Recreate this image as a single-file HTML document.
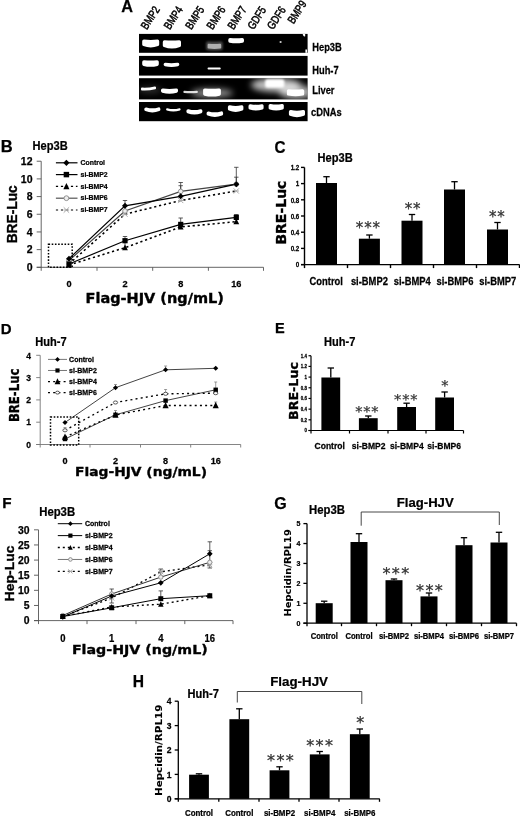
<!DOCTYPE html>
<html lang="en"><head><meta charset="utf-8"><title>Figure</title>
<style>
html,body{margin:0;padding:0;background:#fff;}
body{width:520px;height:817px;overflow:hidden;}
svg{display:block;}
text{font-family:"Liberation Sans",sans-serif;}
text.dv{font-family:"DejaVu Sans","Liberation Sans",sans-serif;}
text.ls{font-family:"Liberation Sans",sans-serif;}
text.st{font-family:"DejaVu Sans","Liberation Sans",sans-serif;font-weight:normal;fill:#333;}
</style></head><body>
<svg width="520" height="817" viewBox="0 0 520 817">
<defs>
<filter id="b1" filterUnits="userSpaceOnUse" x="130" y="25" width="190" height="105"><feGaussianBlur stdDeviation="0.7"/></filter>
<filter id="b2" filterUnits="userSpaceOnUse" x="130" y="25" width="190" height="105"><feGaussianBlur stdDeviation="1.3"/></filter>
<filter id="b3" filterUnits="userSpaceOnUse" x="130" y="25" width="190" height="105"><feGaussianBlur stdDeviation="3"/></filter>
<clipPath id="clipL"><rect x="139" y="78.2" width="168.6" height="21.2"/></clipPath>
</defs>
<rect width="520" height="817" fill="#fff"/>
<text transform="translate(121.30,12.20) scale(1.0,1)" font-size="16.3" font-weight="bold" text-anchor="start" fill="#000" stroke="#000" stroke-width="0.25" >A</text>
<text class="ls" transform="translate(146.80,30.20) rotate(-57) scale(0.8,1)" font-size="11.4" stroke="#000" stroke-width="0.5">BMP2</text>
<text class="ls" transform="translate(169.80,30.20) rotate(-57) scale(0.8,1)" font-size="11.4" stroke="#000" stroke-width="0.5">BMP4</text>
<text class="ls" transform="translate(191.20,30.20) rotate(-57) scale(0.8,1)" font-size="11.4" stroke="#000" stroke-width="0.5">BMP5</text>
<text class="ls" transform="translate(212.60,30.20) rotate(-57) scale(0.8,1)" font-size="11.4" stroke="#000" stroke-width="0.5">BMP6</text>
<text class="ls" transform="translate(233.40,30.20) rotate(-57) scale(0.8,1)" font-size="11.4" stroke="#000" stroke-width="0.5">BMP7</text>
<text class="ls" transform="translate(253.40,30.20) rotate(-57) scale(0.8,1)" font-size="11.4" stroke="#000" stroke-width="0.5">GDF5</text>
<text class="ls" transform="translate(273.00,30.20) rotate(-57) scale(0.8,1)" font-size="11.4" stroke="#000" stroke-width="0.5">GDF6</text>
<text class="ls" transform="translate(293.40,24.60) rotate(-57) scale(0.8,1)" font-size="11.4" stroke="#000" stroke-width="0.5">BMP9</text>
<rect x="139.00" y="33.90" width="168.60" height="18.90" fill="#000" />
<rect x="139.00" y="55.90" width="168.60" height="19.70" fill="#000" />
<rect x="139.00" y="78.20" width="168.60" height="21.20" fill="#000" />
<rect x="139.00" y="102.00" width="168.60" height="19.20" fill="#000" />
<text transform="translate(312.20,50.60) scale(0.82,1)" font-size="11.4" font-weight="bold" text-anchor="start" fill="#000" stroke="#000" stroke-width="0.25" >Hep3B</text>
<text transform="translate(312.20,73.60) scale(0.82,1)" font-size="11.4" font-weight="bold" text-anchor="start" fill="#000" stroke="#000" stroke-width="0.25" >Huh-7</text>
<text transform="translate(312.20,93.70) scale(0.82,1)" font-size="11.4" font-weight="bold" text-anchor="start" fill="#000" stroke="#000" stroke-width="0.25" >Liver</text>
<text transform="translate(311.00,116.10) scale(0.82,1)" font-size="11.4" font-weight="bold" text-anchor="start" fill="#000" stroke="#000" stroke-width="0.25" >cDNAs</text>
<g filter="url(#b3)" clip-path="url(#clipL)">
<ellipse cx="276" cy="85" rx="25" ry="7" fill="#fff" opacity="0.75"/>
<ellipse cx="296" cy="92" rx="17" ry="7" fill="#fff" opacity="0.7"/>
<ellipse cx="212" cy="93" rx="21" ry="4.5" fill="#fff" opacity="0.55"/>
<ellipse cx="150" cy="90" rx="12" ry="3" fill="#fff" opacity="0.2"/>
</g>
<path filter="url(#b1)" d="M143.90,41.30 Q150.70,41.90 157.50,41.30 L157.50,44.50 Q150.70,46.90 143.90,44.50Z" fill="#fff" stroke="#fff" stroke-width="3.4" stroke-linejoin="round" opacity="1.0"/>
<path filter="url(#b1)" d="M164.50,41.90 Q171.90,42.50 179.30,41.90 L179.30,45.50 Q171.90,48.30 164.50,45.50Z" fill="#fff" stroke="#fff" stroke-width="3.4" stroke-linejoin="round" opacity="1.0"/>
<path filter="url(#b2)" d="M207.80,43.30 Q214.40,43.70 221.00,43.30 L221.00,48.40 Q214.40,49.40 207.80,48.40Z" fill="#fff" stroke="#fff" stroke-width="3.4" stroke-linejoin="round" opacity="0.3"/>
<path filter="url(#b1)" d="M208.80,45.00 Q214.40,45.40 220.00,45.00 L220.00,47.40 Q214.40,48.20 208.80,47.40Z" fill="#fff" stroke="#fff" stroke-width="2.4" stroke-linejoin="round" opacity="0.55"/>
<path filter="url(#b1)" d="M230.00,39.80 Q236.15,40.20 242.30,39.80 L242.30,41.00 Q236.15,42.00 230.00,41.00Z" fill="#fff" stroke="#fff" stroke-width="3.4" stroke-linejoin="round" opacity="1.0"/>
<circle cx="280.6" cy="42" r="1.1" fill="#ccc" filter="url(#b1)"/>
<path d="M302.6,33.9 h2.6 v2.4 q-1.5,1.2 -2.6,-2.4z" fill="#fff"/>
<rect x="305.4" y="49.5" width="1.6" height="3.3" fill="#fff"/>
<path filter="url(#b1)" d="M143.90,61.90 Q150.50,62.50 157.10,61.90 L157.10,64.30 Q150.50,65.90 143.90,64.30Z" fill="#fff" stroke="#fff" stroke-width="3.4" stroke-linejoin="round" opacity="1.0"/>
<path filter="url(#b1)" d="M165.30,64.50 Q171.45,65.30 177.60,64.50 L177.60,64.60 Q171.45,65.80 165.30,64.60Z" fill="#fff" stroke="#fff" stroke-width="3.4" stroke-linejoin="round" opacity="1.0"/>
<path filter="url(#b1)" d="M208.40,68.20 Q214.15,68.20 219.90,68.20 L219.90,68.80 Q214.15,68.80 208.40,68.80Z" fill="#fff" stroke="#fff" stroke-width="1.6" stroke-linejoin="round" opacity="1.0"/>
<path filter="url(#b1)" d="M142.00,88.60 Q148.50,89.00 155.00,87.40 L155.00,88.30 Q148.50,89.90 142.00,89.50Z" fill="#fff" stroke="#fff" stroke-width="2.0" stroke-linejoin="round" opacity="1.0"/>
<path filter="url(#b1)" d="M162.70,90.10 Q169.50,91.10 176.30,90.10 L176.30,91.10 Q169.50,93.10 162.70,91.10Z" fill="#fff" stroke="#fff" stroke-width="3.4" stroke-linejoin="round" opacity="1.0"/>
<path filter="url(#b1)" d="M184.25,91.65 Q190.60,92.05 196.95,91.65 L196.95,92.15 Q190.60,92.55 184.25,92.15Z" fill="#fff" stroke="#fff" stroke-width="1.7" stroke-linejoin="round" opacity="0.85"/>
<path filter="url(#b1)" d="M204.80,90.10 Q212.00,90.70 219.20,90.10 L219.20,94.10 Q212.00,95.70 204.80,94.10Z" fill="#fff" stroke="#fff" stroke-width="3.4" stroke-linejoin="round" opacity="1.0"/>
<path filter="url(#b2)" d="M267.60,81.70 Q274.75,81.70 281.90,81.70 L281.90,85.30 Q274.75,85.30 267.60,85.30Z" fill="#fff" stroke="#fff" stroke-width="5.0" stroke-linejoin="round" opacity="1.0"/>
<path filter="url(#b1)" d="M288.60,90.90 Q295.55,91.50 302.50,90.90 L302.50,93.90 Q295.55,95.10 288.60,93.90Z" fill="#fff" stroke="#fff" stroke-width="3.4" stroke-linejoin="round" opacity="1.0"/>
<path filter="url(#b1)" d="M146.00,109.10 Q152.35,110.90 158.70,109.10 L158.70,109.40 Q152.35,112.00 146.00,109.40Z" fill="#fff" stroke="#fff" stroke-width="3.4" stroke-linejoin="round" opacity="1.0"/>
<path filter="url(#b1)" d="M167.10,109.20 Q173.35,111.00 179.60,109.20 L179.60,109.50 Q173.35,111.50 167.10,109.50Z" fill="#fff" stroke="#fff" stroke-width="2.0" stroke-linejoin="round" opacity="1.0"/>
<path filter="url(#b1)" d="M188.10,110.90 Q194.40,112.70 200.70,110.90 L200.70,111.60 Q194.40,114.20 188.10,111.60Z" fill="#fff" stroke="#fff" stroke-width="3.4" stroke-linejoin="round" opacity="1.0"/>
<path filter="url(#b1)" d="M208.30,113.10 Q214.85,114.90 221.40,113.10 L221.40,113.90 Q214.85,116.50 208.30,113.90Z" fill="#fff" stroke="#fff" stroke-width="3.4" stroke-linejoin="round" opacity="1.0"/>
<path filter="url(#b1)" d="M229.60,106.90 Q235.65,108.30 241.70,106.90 L241.70,109.00 Q235.65,111.60 229.60,109.00Z" fill="#fff" stroke="#fff" stroke-width="3.4" stroke-linejoin="round" opacity="1.0"/>
<path filter="url(#b1)" d="M250.20,105.90 Q256.05,107.10 261.90,105.90 L261.90,107.90 Q256.05,109.90 250.20,107.90Z" fill="#fff" stroke="#fff" stroke-width="3.4" stroke-linejoin="round" opacity="1.0"/>
<path filter="url(#b1)" d="M270.30,105.60 Q276.20,106.80 282.10,105.60 L282.10,107.90 Q276.20,109.90 270.30,107.90Z" fill="#fff" stroke="#fff" stroke-width="3.4" stroke-linejoin="round" opacity="1.0"/>
<path filter="url(#b1)" d="M290.60,111.70 Q296.95,113.10 303.30,111.70 L303.30,114.30 Q296.95,116.90 290.60,114.30Z" fill="#fff" stroke="#fff" stroke-width="3.4" stroke-linejoin="round" opacity="1.0"/>
<text transform="translate(0.80,152.00) scale(1.0,1)" font-size="16.5" font-weight="bold" text-anchor="start" fill="#000" stroke="#000" stroke-width="0.25" >B</text>
<text transform="translate(32.60,149.50) scale(0.88,1)" font-size="12.6" font-weight="bold" text-anchor="start" fill="#000" stroke="#000" stroke-width="0.25" >Hep3B</text>
<text class="ls" transform="translate(17.20,243.30) rotate(-90)" font-size="14.2" font-weight="bold" text-anchor="start" textLength="58" lengthAdjust="spacingAndGlyphs" stroke="#000" stroke-width="0.35">BRE-Luc</text>
<line x1="41.20" y1="161.22" x2="41.20" y2="270.80" stroke="#555" stroke-width="0.9" />
<line x1="36.70" y1="267.30" x2="263.50" y2="267.30" stroke="#555" stroke-width="0.9" />
<line x1="97.00" y1="267.30" x2="97.00" y2="270.80" stroke="#555" stroke-width="0.9" />
<line x1="152.70" y1="267.30" x2="152.70" y2="270.80" stroke="#555" stroke-width="0.9" />
<line x1="208.40" y1="267.30" x2="208.40" y2="270.80" stroke="#555" stroke-width="0.9" />
<line x1="263.50" y1="267.30" x2="263.50" y2="270.80" stroke="#555" stroke-width="0.9" />
<line x1="36.70" y1="267.30" x2="41.20" y2="267.30" stroke="#555" stroke-width="0.9" />
<text transform="translate(32.50,271.08) scale(1.0,1)" font-size="10.5" font-weight="bold" text-anchor="end" fill="#000" stroke="#000" stroke-width="0.25" >0</text>
<line x1="36.70" y1="249.62" x2="41.20" y2="249.62" stroke="#555" stroke-width="0.9" />
<text transform="translate(32.50,253.40) scale(1.0,1)" font-size="10.5" font-weight="bold" text-anchor="end" fill="#000" stroke="#000" stroke-width="0.25" >2</text>
<line x1="36.70" y1="231.94" x2="41.20" y2="231.94" stroke="#555" stroke-width="0.9" />
<text transform="translate(32.50,235.72) scale(1.0,1)" font-size="10.5" font-weight="bold" text-anchor="end" fill="#000" stroke="#000" stroke-width="0.25" >4</text>
<line x1="36.70" y1="214.26" x2="41.20" y2="214.26" stroke="#555" stroke-width="0.9" />
<text transform="translate(32.50,218.04) scale(1.0,1)" font-size="10.5" font-weight="bold" text-anchor="end" fill="#000" stroke="#000" stroke-width="0.25" >6</text>
<line x1="36.70" y1="196.58" x2="41.20" y2="196.58" stroke="#555" stroke-width="0.9" />
<text transform="translate(32.50,200.36) scale(1.0,1)" font-size="10.5" font-weight="bold" text-anchor="end" fill="#000" stroke="#000" stroke-width="0.25" >8</text>
<line x1="36.70" y1="178.90" x2="41.20" y2="178.90" stroke="#555" stroke-width="0.9" />
<text transform="translate(32.50,182.68) scale(1.0,1)" font-size="10.5" font-weight="bold" text-anchor="end" fill="#000" stroke="#000" stroke-width="0.25" >10</text>
<line x1="36.70" y1="161.22" x2="41.20" y2="161.22" stroke="#555" stroke-width="0.9" />
<text transform="translate(32.50,165.00) scale(1.0,1)" font-size="10.5" font-weight="bold" text-anchor="end" fill="#000" stroke="#000" stroke-width="0.25" >12</text>
<line x1="125.00" y1="205.80" x2="125.00" y2="200.50" stroke="#333" stroke-width="0.8" />
<line x1="122.80" y1="200.50" x2="127.20" y2="200.50" stroke="#333" stroke-width="0.8" />
<line x1="125.00" y1="211.00" x2="125.00" y2="206.50" stroke="#333" stroke-width="0.8" />
<line x1="122.80" y1="206.50" x2="127.20" y2="206.50" stroke="#333" stroke-width="0.8" />
<line x1="125.00" y1="240.70" x2="125.00" y2="236.50" stroke="#333" stroke-width="0.8" />
<line x1="122.80" y1="236.50" x2="127.20" y2="236.50" stroke="#333" stroke-width="0.8" />
<line x1="125.00" y1="247.70" x2="125.00" y2="242.00" stroke="#333" stroke-width="0.8" />
<line x1="122.80" y1="242.00" x2="127.20" y2="242.00" stroke="#333" stroke-width="0.8" />
<line x1="180.70" y1="196.30" x2="180.70" y2="182.50" stroke="#333" stroke-width="0.8" />
<line x1="178.50" y1="182.50" x2="182.90" y2="182.50" stroke="#333" stroke-width="0.8" />
<line x1="180.70" y1="191.40" x2="180.70" y2="185.70" stroke="#333" stroke-width="0.8" />
<line x1="178.50" y1="185.70" x2="182.90" y2="185.70" stroke="#333" stroke-width="0.8" />
<line x1="180.70" y1="224.40" x2="180.70" y2="218.00" stroke="#333" stroke-width="0.8" />
<line x1="178.50" y1="218.00" x2="182.90" y2="218.00" stroke="#333" stroke-width="0.8" />
<line x1="236.30" y1="184.20" x2="236.30" y2="167.30" stroke="#333" stroke-width="0.8" />
<line x1="234.10" y1="167.30" x2="238.50" y2="167.30" stroke="#333" stroke-width="0.8" />
<line x1="236.30" y1="184.20" x2="236.30" y2="177.20" stroke="#333" stroke-width="0.8" />
<line x1="234.10" y1="177.20" x2="238.50" y2="177.20" stroke="#333" stroke-width="0.8" />
<line x1="236.30" y1="217.40" x2="236.30" y2="214.50" stroke="#333" stroke-width="0.8" />
<line x1="234.10" y1="214.50" x2="238.50" y2="214.50" stroke="#333" stroke-width="0.8" />
<polyline points="69.00,264.00 125.00,214.20 180.70,200.50 236.30,191.00" fill="none" stroke="#000" stroke-width="1.5499999999999998" stroke-dasharray="2.2 2.8"/>
<polyline points="69.00,265.00 125.00,247.70 180.70,227.00 236.30,221.60" fill="none" stroke="#000" stroke-width="1.5499999999999998" stroke-dasharray="2.2 2.8"/>
<polyline points="69.00,260.50 125.00,211.00 180.70,191.40 236.30,184.20" fill="none" stroke="#444" stroke-width="1.2"/>
<polyline points="69.00,264.00 125.00,240.70 180.70,224.40 236.30,217.40" fill="none" stroke="#000" stroke-width="1.2"/>
<polyline points="69.00,258.70 125.00,205.80 180.70,196.30 236.30,184.20" fill="none" stroke="#000" stroke-width="1.2"/>
<path d="M66.40,261.40L71.60,266.60M66.40,266.60L71.60,261.40M66.40,264.00L71.60,264.00" stroke="#aaa" stroke-width="1.0" fill="none"/>
<path d="M122.40,211.60L127.60,216.80M122.40,216.80L127.60,211.60M122.40,214.20L127.60,214.20" stroke="#aaa" stroke-width="1.0" fill="none"/>
<path d="M178.10,197.90L183.30,203.10M178.10,203.10L183.30,197.90M178.10,200.50L183.30,200.50" stroke="#aaa" stroke-width="1.0" fill="none"/>
<path d="M233.70,188.40L238.90,193.60M233.70,193.60L238.90,188.40M233.70,191.00L238.90,191.00" stroke="#aaa" stroke-width="1.0" fill="none"/>
<path d="M66.10,267.61L69.00,261.81L71.90,267.61Z" fill="#000"/>
<path d="M122.10,250.31L125.00,244.51L127.90,250.31Z" fill="#000"/>
<path d="M177.80,229.61L180.70,223.81L183.60,229.61Z" fill="#000"/>
<path d="M233.40,224.21L236.30,218.41L239.20,224.21Z" fill="#000"/>
<circle cx="69.00" cy="260.50" r="2.30" fill="#eee" stroke="#888" stroke-width="0.9"/>
<circle cx="125.00" cy="211.00" r="2.30" fill="#eee" stroke="#888" stroke-width="0.9"/>
<circle cx="180.70" cy="191.40" r="2.30" fill="#eee" stroke="#888" stroke-width="0.9"/>
<circle cx="236.30" cy="184.20" r="2.30" fill="#eee" stroke="#888" stroke-width="0.9"/>
<rect x="66.40" y="261.40" width="5.20" height="5.20" fill="#000" />
<rect x="122.40" y="238.10" width="5.20" height="5.20" fill="#000" />
<rect x="178.10" y="221.80" width="5.20" height="5.20" fill="#000" />
<rect x="233.70" y="214.80" width="5.20" height="5.20" fill="#000" />
<path d="M66.00,258.70L69.00,255.70L72.00,258.70L69.00,261.70Z" fill="#000"/>
<path d="M122.00,205.80L125.00,202.80L128.00,205.80L125.00,208.80Z" fill="#000"/>
<path d="M177.70,196.30L180.70,193.30L183.70,196.30L180.70,199.30Z" fill="#000"/>
<path d="M233.30,184.20L236.30,181.20L239.30,184.20L236.30,187.20Z" fill="#000"/>
<rect x="48.5" y="244.3" width="23.7" height="23" fill="none" stroke="#000" stroke-width="1.5" stroke-dasharray="1.6 1.6"/>
<polyline points="55.90,162.80 77.50,162.80" fill="none" stroke="#000" stroke-width="1.2"/>
<path d="M63.25,162.80L66.40,159.65L69.55,162.80L66.40,165.95Z" fill="#000"/>
<text transform="translate(80.60,164.90) scale(0.93,1)" font-size="7.4" font-weight="bold" text-anchor="start" fill="#000" stroke="#000" stroke-width="0.25" >Control</text>
<polyline points="55.90,174.60 77.50,174.60" fill="none" stroke="#000" stroke-width="1.2"/>
<rect x="63.67" y="171.87" width="5.46" height="5.46" fill="#000" />
<text transform="translate(80.60,176.70) scale(0.93,1)" font-size="7.4" font-weight="bold" text-anchor="start" fill="#000" stroke="#000" stroke-width="0.25" >si-BMP2</text>
<polyline points="55.90,186.40 77.50,186.40" fill="none" stroke="#000" stroke-width="1.2" stroke-dasharray="2.2 2.8"/>
<path d="M63.36,189.14L66.40,183.05L69.45,189.14Z" fill="#000"/>
<text transform="translate(80.60,188.50) scale(0.93,1)" font-size="7.4" font-weight="bold" text-anchor="start" fill="#000" stroke="#000" stroke-width="0.25" >si-BMP4</text>
<polyline points="55.90,198.20 77.50,198.20" fill="none" stroke="#555" stroke-width="1.2"/>
<circle cx="66.40" cy="198.20" r="2.42" fill="#eee" stroke="#888" stroke-width="0.9"/>
<text transform="translate(80.60,200.30) scale(0.93,1)" font-size="7.4" font-weight="bold" text-anchor="start" fill="#000" stroke="#000" stroke-width="0.25" >si-BMP6</text>
<polyline points="55.90,210.00 77.50,210.00" fill="none" stroke="#000" stroke-width="1.2" stroke-dasharray="2.2 2.8"/>
<path d="M63.67,207.27L69.13,212.73M63.67,212.73L69.13,207.27M63.67,210.00L69.13,210.00" stroke="#aaa" stroke-width="1.0" fill="none"/>
<text transform="translate(80.60,212.10) scale(0.93,1)" font-size="7.4" font-weight="bold" text-anchor="start" fill="#000" stroke="#000" stroke-width="0.25" >si-BMP7</text>
<text transform="translate(69.00,287.30) scale(0.95,1)" font-size="9.7" font-weight="bold" text-anchor="middle" fill="#000" stroke="#000" stroke-width="0.25" >0</text>
<text transform="translate(125.00,287.30) scale(0.95,1)" font-size="9.7" font-weight="bold" text-anchor="middle" fill="#000" stroke="#000" stroke-width="0.25" >2</text>
<text transform="translate(180.70,287.30) scale(0.95,1)" font-size="9.7" font-weight="bold" text-anchor="middle" fill="#000" stroke="#000" stroke-width="0.25" >8</text>
<text transform="translate(236.30,287.30) scale(0.95,1)" font-size="9.7" font-weight="bold" text-anchor="middle" fill="#000" stroke="#000" stroke-width="0.25" >16</text>
<text class="dv" transform="translate(85.50,302.90)" font-size="13.2" font-weight="bold" text-anchor="start" textLength="138.5" lengthAdjust="spacingAndGlyphs" stroke="#000" stroke-width="0.35">Flag-HJV (ng/mL)</text>
<text transform="translate(274.60,152.50) scale(0.93,1)" font-size="16.4" font-weight="bold" text-anchor="start" fill="#000" stroke="#000" stroke-width="0.25" >C</text>
<text transform="translate(317.60,162.20) scale(0.88,1)" font-size="12.6" font-weight="bold" text-anchor="start" fill="#000" stroke="#000" stroke-width="0.25" >Hep3B</text>
<text class="dv" transform="translate(286.20,244.60) rotate(-90)" font-size="14.2" font-weight="bold" text-anchor="start" textLength="64" lengthAdjust="spacingAndGlyphs" stroke="#000" stroke-width="0.35">BRE-Luc</text>
<rect x="316.00" y="183.00" width="21.00" height="81.60" fill="#000" />
<line x1="326.50" y1="183.00" x2="326.50" y2="176.70" stroke="#000" stroke-width="1.3" />
<line x1="323.30" y1="176.70" x2="329.70" y2="176.70" stroke="#000" stroke-width="1.3" />
<rect x="358.90" y="238.70" width="21.00" height="25.90" fill="#000" />
<line x1="369.40" y1="238.70" x2="369.40" y2="235.00" stroke="#000" stroke-width="1.3" />
<line x1="366.20" y1="235.00" x2="372.60" y2="235.00" stroke="#000" stroke-width="1.3" />
<rect x="401.50" y="220.70" width="21.00" height="43.90" fill="#000" />
<line x1="412.00" y1="220.70" x2="412.00" y2="214.50" stroke="#000" stroke-width="1.3" />
<line x1="408.80" y1="214.50" x2="415.20" y2="214.50" stroke="#000" stroke-width="1.3" />
<rect x="444.00" y="189.50" width="21.00" height="75.10" fill="#000" />
<line x1="454.50" y1="189.50" x2="454.50" y2="181.70" stroke="#000" stroke-width="1.3" />
<line x1="451.30" y1="181.70" x2="457.70" y2="181.70" stroke="#000" stroke-width="1.3" />
<rect x="487.00" y="229.50" width="21.00" height="35.10" fill="#000" />
<line x1="497.50" y1="229.50" x2="497.50" y2="222.50" stroke="#000" stroke-width="1.3" />
<line x1="494.30" y1="222.50" x2="500.70" y2="222.50" stroke="#000" stroke-width="1.3" />
<line x1="304.50" y1="167.40" x2="304.50" y2="268.10" stroke="#000" stroke-width="1.4" />
<line x1="301.00" y1="264.60" x2="519.50" y2="264.60" stroke="#000" stroke-width="1.4" />
<line x1="347.50" y1="264.60" x2="347.50" y2="268.10" stroke="#000" stroke-width="1.4" />
<line x1="390.50" y1="264.60" x2="390.50" y2="268.10" stroke="#000" stroke-width="1.4" />
<line x1="433.50" y1="264.60" x2="433.50" y2="268.10" stroke="#000" stroke-width="1.4" />
<line x1="476.50" y1="264.60" x2="476.50" y2="268.10" stroke="#000" stroke-width="1.4" />
<line x1="519.50" y1="264.60" x2="519.50" y2="268.10" stroke="#000" stroke-width="1.4" />
<line x1="301.00" y1="264.60" x2="304.50" y2="264.60" stroke="#000" stroke-width="1.4" />
<text transform="translate(299.30,267.34) scale(0.82,1)" font-size="7.6" font-weight="bold" text-anchor="end" fill="#000" stroke="#000" stroke-width="0.25" >0</text>
<line x1="301.00" y1="248.40" x2="304.50" y2="248.40" stroke="#000" stroke-width="1.4" />
<text transform="translate(299.30,251.14) scale(0.82,1)" font-size="7.6" font-weight="bold" text-anchor="end" fill="#000" stroke="#000" stroke-width="0.25" >0.2</text>
<line x1="301.00" y1="232.20" x2="304.50" y2="232.20" stroke="#000" stroke-width="1.4" />
<text transform="translate(299.30,234.94) scale(0.82,1)" font-size="7.6" font-weight="bold" text-anchor="end" fill="#000" stroke="#000" stroke-width="0.25" >0.4</text>
<line x1="301.00" y1="216.00" x2="304.50" y2="216.00" stroke="#000" stroke-width="1.4" />
<text transform="translate(299.30,218.74) scale(0.82,1)" font-size="7.6" font-weight="bold" text-anchor="end" fill="#000" stroke="#000" stroke-width="0.25" >0.6</text>
<line x1="301.00" y1="199.80" x2="304.50" y2="199.80" stroke="#000" stroke-width="1.4" />
<text transform="translate(299.30,202.54) scale(0.82,1)" font-size="7.6" font-weight="bold" text-anchor="end" fill="#000" stroke="#000" stroke-width="0.25" >0.8</text>
<line x1="301.00" y1="183.60" x2="304.50" y2="183.60" stroke="#000" stroke-width="1.4" />
<text transform="translate(299.30,186.34) scale(0.82,1)" font-size="7.6" font-weight="bold" text-anchor="end" fill="#000" stroke="#000" stroke-width="0.25" >1</text>
<line x1="301.00" y1="167.40" x2="304.50" y2="167.40" stroke="#000" stroke-width="1.4" />
<text transform="translate(299.30,170.14) scale(0.82,1)" font-size="7.6" font-weight="bold" text-anchor="end" fill="#000" stroke="#000" stroke-width="0.25" >1.2</text>
<text transform="translate(326.20,284.60) scale(0.92,1)" font-size="10.2" font-weight="bold" text-anchor="middle" fill="#000" stroke="#000" stroke-width="0.25" >Control</text>
<text transform="translate(369.40,284.60) scale(0.92,1)" font-size="10.2" font-weight="bold" text-anchor="middle" fill="#000" stroke="#000" stroke-width="0.25" >si-BMP2</text>
<text transform="translate(412.30,284.60) scale(0.92,1)" font-size="10.2" font-weight="bold" text-anchor="middle" fill="#000" stroke="#000" stroke-width="0.25" >si-BMP4</text>
<text transform="translate(455.00,284.60) scale(0.92,1)" font-size="10.2" font-weight="bold" text-anchor="middle" fill="#000" stroke="#000" stroke-width="0.25" >si-BMP6</text>
<text transform="translate(497.80,284.60) scale(0.92,1)" font-size="10.2" font-weight="bold" text-anchor="middle" fill="#000" stroke="#000" stroke-width="0.25" >si-BMP7</text>
<text class="st" x="368.30" y="232.60" font-size="15" text-anchor="middle" letter-spacing="0.8" stroke="#333" stroke-width="0.25">***</text>
<text class="st" x="413.00" y="214.40" font-size="15" text-anchor="middle" letter-spacing="0.8" stroke="#333" stroke-width="0.25">**</text>
<text class="st" x="497.30" y="222.10" font-size="15" text-anchor="middle" letter-spacing="0.8" stroke="#333" stroke-width="0.25">**</text>
<text transform="translate(0.80,334.20) scale(1.0,1)" font-size="15" font-weight="bold" text-anchor="start" fill="#000" stroke="#000" stroke-width="0.25" >D</text>
<text transform="translate(35.30,346.00) scale(0.9,1)" font-size="12.3" font-weight="bold" text-anchor="start" fill="#000" stroke="#000" stroke-width="0.25" >Huh-7</text>
<text class="dv" transform="translate(19.00,422.10) rotate(-90)" font-size="13.7" font-weight="bold" text-anchor="start" textLength="53.5" lengthAdjust="spacingAndGlyphs" stroke="#000" stroke-width="0.35">BRE-Luc</text>
<line x1="40.20" y1="355.30" x2="40.20" y2="447.50" stroke="#777" stroke-width="0.9" />
<line x1="36.20" y1="444.50" x2="240.70" y2="444.50" stroke="#777" stroke-width="0.9" />
<line x1="90.00" y1="444.50" x2="90.00" y2="447.50" stroke="#777" stroke-width="0.9" />
<line x1="140.50" y1="444.50" x2="140.50" y2="447.50" stroke="#777" stroke-width="0.9" />
<line x1="190.70" y1="444.50" x2="190.70" y2="447.50" stroke="#777" stroke-width="0.9" />
<line x1="240.70" y1="444.50" x2="240.70" y2="447.50" stroke="#777" stroke-width="0.9" />
<line x1="36.20" y1="444.50" x2="40.20" y2="444.50" stroke="#777" stroke-width="0.9" />
<text transform="translate(31.00,447.74) scale(0.95,1)" font-size="9" font-weight="bold" text-anchor="end" fill="#000" stroke="#000" stroke-width="0.25" >0</text>
<line x1="36.20" y1="422.20" x2="40.20" y2="422.20" stroke="#777" stroke-width="0.9" />
<text transform="translate(31.00,425.44) scale(0.95,1)" font-size="9" font-weight="bold" text-anchor="end" fill="#000" stroke="#000" stroke-width="0.25" >1</text>
<line x1="36.20" y1="399.90" x2="40.20" y2="399.90" stroke="#777" stroke-width="0.9" />
<text transform="translate(31.00,403.14) scale(0.95,1)" font-size="9" font-weight="bold" text-anchor="end" fill="#000" stroke="#000" stroke-width="0.25" >2</text>
<line x1="36.20" y1="377.60" x2="40.20" y2="377.60" stroke="#777" stroke-width="0.9" />
<text transform="translate(31.00,380.84) scale(0.95,1)" font-size="9" font-weight="bold" text-anchor="end" fill="#000" stroke="#000" stroke-width="0.25" >3</text>
<line x1="36.20" y1="355.30" x2="40.20" y2="355.30" stroke="#777" stroke-width="0.9" />
<text transform="translate(31.00,358.54) scale(0.95,1)" font-size="9" font-weight="bold" text-anchor="end" fill="#000" stroke="#000" stroke-width="0.25" >4</text>
<line x1="115.50" y1="387.70" x2="115.50" y2="384.50" stroke="#777" stroke-width="0.7" />
<line x1="114.00" y1="384.50" x2="117.00" y2="384.50" stroke="#777" stroke-width="0.7" />
<line x1="165.60" y1="369.80" x2="165.60" y2="366.00" stroke="#777" stroke-width="0.7" />
<line x1="164.10" y1="366.00" x2="167.10" y2="366.00" stroke="#777" stroke-width="0.7" />
<line x1="215.70" y1="389.80" x2="215.70" y2="382.00" stroke="#777" stroke-width="0.7" />
<line x1="214.20" y1="382.00" x2="217.20" y2="382.00" stroke="#777" stroke-width="0.7" />
<line x1="115.50" y1="414.80" x2="115.50" y2="410.50" stroke="#777" stroke-width="0.7" />
<line x1="114.00" y1="410.50" x2="117.00" y2="410.50" stroke="#777" stroke-width="0.7" />
<line x1="165.60" y1="393.80" x2="165.60" y2="389.50" stroke="#777" stroke-width="0.7" />
<line x1="164.10" y1="389.50" x2="167.10" y2="389.50" stroke="#777" stroke-width="0.7" />
<line x1="215.70" y1="405.50" x2="215.70" y2="402.00" stroke="#777" stroke-width="0.7" />
<line x1="214.20" y1="402.00" x2="217.20" y2="402.00" stroke="#777" stroke-width="0.7" />
<line x1="65.00" y1="430.30" x2="65.00" y2="427.50" stroke="#777" stroke-width="0.7" />
<line x1="63.50" y1="427.50" x2="66.50" y2="427.50" stroke="#777" stroke-width="0.7" />
<polyline points="65.00,422.50 115.50,387.70 165.60,369.80 215.70,368.30" fill="none" stroke="#444" stroke-width="1.0"/>
<polyline points="65.00,439.00 115.50,414.80 165.60,400.60 215.70,389.80" fill="none" stroke="#444" stroke-width="1.0"/>
<polyline points="65.00,437.00 115.50,415.00 165.60,405.50 215.70,405.50" fill="none" stroke="#000" stroke-width="1.35" stroke-dasharray="2 3.2"/>
<polyline points="65.00,430.30 115.50,402.50 165.60,393.80 215.70,393.20" fill="none" stroke="#000" stroke-width="1.35" stroke-dasharray="2 3.2"/>
<path d="M62.45,422.50L65.00,419.95L67.55,422.50L65.00,425.05Z" fill="#000"/>
<path d="M112.95,387.70L115.50,385.15L118.05,387.70L115.50,390.25Z" fill="#000"/>
<path d="M163.05,369.80L165.60,367.25L168.15,369.80L165.60,372.35Z" fill="#000"/>
<path d="M213.15,368.30L215.70,365.75L218.25,368.30L215.70,370.85Z" fill="#000"/>
<rect x="62.79" y="436.79" width="4.42" height="4.42" fill="#000" />
<rect x="113.29" y="412.59" width="4.42" height="4.42" fill="#000" />
<rect x="163.39" y="398.39" width="4.42" height="4.42" fill="#000" />
<rect x="213.49" y="387.59" width="4.42" height="4.42" fill="#000" />
<path d="M61.92,439.77L65.00,433.61L68.08,439.77Z" fill="#000"/>
<path d="M112.42,417.77L115.50,411.61L118.58,417.77Z" fill="#000"/>
<path d="M162.52,408.27L165.60,402.11L168.68,408.27Z" fill="#000"/>
<path d="M212.62,408.27L215.70,402.11L218.78,408.27Z" fill="#000"/>
<ellipse cx="65.00" cy="430.30" rx="2.15" ry="1.56" fill="#fff" stroke="#333" stroke-width="0.8"/>
<ellipse cx="115.50" cy="402.50" rx="2.15" ry="1.56" fill="#fff" stroke="#333" stroke-width="0.8"/>
<ellipse cx="165.60" cy="393.80" rx="2.15" ry="1.56" fill="#fff" stroke="#333" stroke-width="0.8"/>
<ellipse cx="215.70" cy="393.20" rx="2.15" ry="1.56" fill="#fff" stroke="#333" stroke-width="0.8"/>
<rect x="50.5" y="417" width="28.2" height="28" fill="none" stroke="#000" stroke-width="1.5" stroke-dasharray="1.6 1.6"/>
<polyline points="48.00,359.40 67.00,359.40" fill="none" stroke="#666" stroke-width="0.9"/>
<path d="M55.10,359.40L57.50,357.00L59.90,359.40L57.50,361.80Z" fill="#000"/>
<text transform="translate(69.10,361.60) scale(0.95,1)" font-size="7.4" font-weight="bold" text-anchor="start" fill="#000" stroke="#000" stroke-width="0.25" >Control</text>
<polyline points="48.00,370.47 67.00,370.47" fill="none" stroke="#666" stroke-width="0.9"/>
<rect x="55.42" y="368.39" width="4.16" height="4.16" fill="#000" />
<text transform="translate(69.10,372.67) scale(0.95,1)" font-size="7.4" font-weight="bold" text-anchor="start" fill="#000" stroke="#000" stroke-width="0.25" >si-BMP2</text>
<polyline points="48.00,381.54 67.00,381.54" fill="none" stroke="#000" stroke-width="1.3" stroke-dasharray="2 3.2"/>
<path d="M54.60,384.15L57.50,378.35L60.40,384.15Z" fill="#000"/>
<text transform="translate(69.10,383.74) scale(0.95,1)" font-size="7.4" font-weight="bold" text-anchor="start" fill="#000" stroke="#000" stroke-width="0.25" >si-BMP4</text>
<polyline points="48.00,392.61 67.00,392.61" fill="none" stroke="#000" stroke-width="1.3" stroke-dasharray="2 3.2"/>
<ellipse cx="57.50" cy="392.61" rx="2.02" ry="1.47" fill="#fff" stroke="#333" stroke-width="0.8"/>
<text transform="translate(69.10,394.81) scale(0.95,1)" font-size="7.4" font-weight="bold" text-anchor="start" fill="#000" stroke="#000" stroke-width="0.25" >si-BMP6</text>
<text transform="translate(65.00,464.10) scale(0.95,1)" font-size="9.6" font-weight="bold" text-anchor="middle" fill="#000" stroke="#000" stroke-width="0.25" >0</text>
<text transform="translate(115.50,464.10) scale(0.95,1)" font-size="9.6" font-weight="bold" text-anchor="middle" fill="#000" stroke="#000" stroke-width="0.25" >2</text>
<text transform="translate(165.60,464.10) scale(0.95,1)" font-size="9.6" font-weight="bold" text-anchor="middle" fill="#000" stroke="#000" stroke-width="0.25" >8</text>
<text transform="translate(215.70,464.10) scale(0.95,1)" font-size="9.6" font-weight="bold" text-anchor="middle" fill="#000" stroke="#000" stroke-width="0.25" >16</text>
<text class="dv" transform="translate(75.00,475.70)" font-size="12.8" font-weight="bold" text-anchor="start" textLength="132" lengthAdjust="spacingAndGlyphs" stroke="#000" stroke-width="0.35">Flag-HJV (ng/mL)</text>
<text transform="translate(275.00,332.60) scale(1.0,1)" font-size="14.5" font-weight="bold" text-anchor="start" fill="#000" stroke="#000" stroke-width="0.25" >E</text>
<text transform="translate(324.00,346.00) scale(0.9,1)" font-size="12.3" font-weight="bold" text-anchor="start" fill="#000" stroke="#000" stroke-width="0.25" >Huh-7</text>
<text class="dv" transform="translate(298.00,419.90) rotate(-90)" font-size="12.8" font-weight="bold" text-anchor="start" textLength="57.8" lengthAdjust="spacingAndGlyphs" stroke="#000" stroke-width="0.35">BRE-Luc</text>
<rect x="321.40" y="377.50" width="18.80" height="53.00" fill="#000" />
<line x1="330.80" y1="377.50" x2="330.80" y2="368.00" stroke="#000" stroke-width="1.3" />
<line x1="327.60" y1="368.00" x2="334.00" y2="368.00" stroke="#000" stroke-width="1.3" />
<rect x="358.90" y="418.20" width="18.80" height="12.30" fill="#000" />
<line x1="368.30" y1="418.20" x2="368.30" y2="416.00" stroke="#000" stroke-width="1.3" />
<line x1="365.10" y1="416.00" x2="371.50" y2="416.00" stroke="#000" stroke-width="1.3" />
<rect x="397.20" y="407.00" width="18.80" height="23.50" fill="#000" />
<line x1="406.60" y1="407.00" x2="406.60" y2="403.20" stroke="#000" stroke-width="1.3" />
<line x1="403.40" y1="403.20" x2="409.80" y2="403.20" stroke="#000" stroke-width="1.3" />
<rect x="435.20" y="397.50" width="18.80" height="33.00" fill="#000" />
<line x1="444.60" y1="397.50" x2="444.60" y2="392.00" stroke="#000" stroke-width="1.3" />
<line x1="441.40" y1="392.00" x2="447.80" y2="392.00" stroke="#000" stroke-width="1.3" />
<line x1="311.00" y1="355.74" x2="311.00" y2="433.50" stroke="#000" stroke-width="1.2" />
<line x1="308.50" y1="430.50" x2="463.50" y2="430.50" stroke="#000" stroke-width="1.2" />
<line x1="349.50" y1="430.50" x2="349.50" y2="433.50" stroke="#000" stroke-width="1.2" />
<line x1="388.00" y1="430.50" x2="388.00" y2="433.50" stroke="#000" stroke-width="1.2" />
<line x1="426.00" y1="430.50" x2="426.00" y2="433.50" stroke="#000" stroke-width="1.2" />
<line x1="463.50" y1="430.50" x2="463.50" y2="433.50" stroke="#000" stroke-width="1.2" />
<line x1="308.50" y1="430.50" x2="311.00" y2="430.50" stroke="#000" stroke-width="1.2" />
<text transform="translate(307.00,432.44) scale(0.82,1)" font-size="5.4" font-weight="bold" text-anchor="end" fill="#000" stroke="#000" stroke-width="0.25" >0</text>
<line x1="308.50" y1="419.82" x2="311.00" y2="419.82" stroke="#000" stroke-width="1.2" />
<text transform="translate(307.00,421.76) scale(0.82,1)" font-size="5.4" font-weight="bold" text-anchor="end" fill="#000" stroke="#000" stroke-width="0.25" >0.2</text>
<line x1="308.50" y1="409.14" x2="311.00" y2="409.14" stroke="#000" stroke-width="1.2" />
<text transform="translate(307.00,411.08) scale(0.82,1)" font-size="5.4" font-weight="bold" text-anchor="end" fill="#000" stroke="#000" stroke-width="0.25" >0.4</text>
<line x1="308.50" y1="398.46" x2="311.00" y2="398.46" stroke="#000" stroke-width="1.2" />
<text transform="translate(307.00,400.40) scale(0.82,1)" font-size="5.4" font-weight="bold" text-anchor="end" fill="#000" stroke="#000" stroke-width="0.25" >0.6</text>
<line x1="308.50" y1="387.78" x2="311.00" y2="387.78" stroke="#000" stroke-width="1.2" />
<text transform="translate(307.00,389.72) scale(0.82,1)" font-size="5.4" font-weight="bold" text-anchor="end" fill="#000" stroke="#000" stroke-width="0.25" >0.8</text>
<line x1="308.50" y1="377.10" x2="311.00" y2="377.10" stroke="#000" stroke-width="1.2" />
<text transform="translate(307.00,379.04) scale(0.82,1)" font-size="5.4" font-weight="bold" text-anchor="end" fill="#000" stroke="#000" stroke-width="0.25" >1</text>
<line x1="308.50" y1="366.42" x2="311.00" y2="366.42" stroke="#000" stroke-width="1.2" />
<text transform="translate(307.00,368.36) scale(0.82,1)" font-size="5.4" font-weight="bold" text-anchor="end" fill="#000" stroke="#000" stroke-width="0.25" >1.2</text>
<line x1="308.50" y1="355.74" x2="311.00" y2="355.74" stroke="#000" stroke-width="1.2" />
<text transform="translate(307.00,357.68) scale(0.82,1)" font-size="5.4" font-weight="bold" text-anchor="end" fill="#000" stroke="#000" stroke-width="0.25" >1.4</text>
<text transform="translate(329.70,449.30) scale(0.92,1)" font-size="9.3" font-weight="bold" text-anchor="middle" fill="#000" stroke="#000" stroke-width="0.25" >Control</text>
<text transform="translate(368.70,449.30) scale(0.92,1)" font-size="9.3" font-weight="bold" text-anchor="middle" fill="#000" stroke="#000" stroke-width="0.25" >si-BMP2</text>
<text transform="translate(406.80,449.30) scale(0.92,1)" font-size="9.3" font-weight="bold" text-anchor="middle" fill="#000" stroke="#000" stroke-width="0.25" >si-BMP4</text>
<text transform="translate(444.20,449.30) scale(0.92,1)" font-size="9.3" font-weight="bold" text-anchor="middle" fill="#000" stroke="#000" stroke-width="0.25" >si-BMP6</text>
<text class="st" x="367.30" y="415.93" font-size="14.5" text-anchor="middle" letter-spacing="0.8" stroke="#333" stroke-width="0.25">***</text>
<text class="st" x="406.20" y="403.93" font-size="14.5" text-anchor="middle" letter-spacing="0.8" stroke="#333" stroke-width="0.25">***</text>
<text class="st" x="445.30" y="390.23" font-size="14.5" text-anchor="middle" letter-spacing="0.8" stroke="#333" stroke-width="0.25">*</text>
<text transform="translate(2.20,507.60) scale(1.0,1)" font-size="15.3" font-weight="bold" text-anchor="start" fill="#000" stroke="#000" stroke-width="0.25" >F</text>
<text transform="translate(39.20,516.30) scale(0.9,1)" font-size="12.6" font-weight="bold" text-anchor="start" fill="#000" stroke="#000" stroke-width="0.25" >Hep3B</text>
<text class="ls" transform="translate(14.00,601.40) rotate(-90)" font-size="13.5" font-weight="bold" text-anchor="start" textLength="56" lengthAdjust="spacingAndGlyphs" stroke="#000" stroke-width="0.35">Hep-Luc</text>
<line x1="38.50" y1="529.82" x2="38.50" y2="624.10" stroke="#555" stroke-width="0.9" />
<line x1="34.00" y1="620.60" x2="233.00" y2="620.60" stroke="#555" stroke-width="0.9" />
<line x1="87.00" y1="620.60" x2="87.00" y2="624.10" stroke="#555" stroke-width="0.9" />
<line x1="136.00" y1="620.60" x2="136.00" y2="624.10" stroke="#555" stroke-width="0.9" />
<line x1="184.80" y1="620.60" x2="184.80" y2="624.10" stroke="#555" stroke-width="0.9" />
<line x1="233.00" y1="620.60" x2="233.00" y2="624.10" stroke="#555" stroke-width="0.9" />
<line x1="34.00" y1="620.60" x2="38.50" y2="620.60" stroke="#555" stroke-width="0.9" />
<text transform="translate(29.60,624.34) scale(1.0,1)" font-size="10.4" font-weight="bold" text-anchor="end" fill="#000" stroke="#000" stroke-width="0.25" >0</text>
<line x1="34.00" y1="605.47" x2="38.50" y2="605.47" stroke="#555" stroke-width="0.9" />
<text transform="translate(29.60,609.21) scale(1.0,1)" font-size="10.4" font-weight="bold" text-anchor="end" fill="#000" stroke="#000" stroke-width="0.25" >5</text>
<line x1="34.00" y1="590.34" x2="38.50" y2="590.34" stroke="#555" stroke-width="0.9" />
<text transform="translate(29.60,594.08) scale(1.0,1)" font-size="10.4" font-weight="bold" text-anchor="end" fill="#000" stroke="#000" stroke-width="0.25" >10</text>
<line x1="34.00" y1="575.21" x2="38.50" y2="575.21" stroke="#555" stroke-width="0.9" />
<text transform="translate(29.60,578.95) scale(1.0,1)" font-size="10.4" font-weight="bold" text-anchor="end" fill="#000" stroke="#000" stroke-width="0.25" >15</text>
<line x1="34.00" y1="560.08" x2="38.50" y2="560.08" stroke="#555" stroke-width="0.9" />
<text transform="translate(29.60,563.82) scale(1.0,1)" font-size="10.4" font-weight="bold" text-anchor="end" fill="#000" stroke="#000" stroke-width="0.25" >20</text>
<line x1="34.00" y1="544.95" x2="38.50" y2="544.95" stroke="#555" stroke-width="0.9" />
<text transform="translate(29.60,548.69) scale(1.0,1)" font-size="10.4" font-weight="bold" text-anchor="end" fill="#000" stroke="#000" stroke-width="0.25" >25</text>
<line x1="34.00" y1="529.82" x2="38.50" y2="529.82" stroke="#555" stroke-width="0.9" />
<text transform="translate(29.60,533.56) scale(1.0,1)" font-size="10.4" font-weight="bold" text-anchor="end" fill="#000" stroke="#000" stroke-width="0.25" >30</text>
<line x1="111.70" y1="594.00" x2="111.70" y2="589.00" stroke="#333" stroke-width="0.8" />
<line x1="109.50" y1="589.00" x2="113.90" y2="589.00" stroke="#333" stroke-width="0.8" />
<line x1="111.70" y1="598.00" x2="111.70" y2="603.00" stroke="#333" stroke-width="0.8" />
<line x1="109.50" y1="603.00" x2="113.90" y2="603.00" stroke="#333" stroke-width="0.8" />
<line x1="160.80" y1="598.70" x2="160.80" y2="590.90" stroke="#333" stroke-width="0.8" />
<line x1="158.60" y1="590.90" x2="163.00" y2="590.90" stroke="#333" stroke-width="0.8" />
<line x1="160.80" y1="571.80" x2="160.80" y2="569.00" stroke="#333" stroke-width="0.8" />
<line x1="158.60" y1="569.00" x2="163.00" y2="569.00" stroke="#333" stroke-width="0.8" />
<line x1="160.80" y1="577.10" x2="160.80" y2="571.80" stroke="#333" stroke-width="0.8" />
<line x1="158.60" y1="571.80" x2="163.00" y2="571.80" stroke="#333" stroke-width="0.8" />
<line x1="209.80" y1="553.80" x2="209.80" y2="541.80" stroke="#333" stroke-width="0.8" />
<line x1="207.60" y1="541.80" x2="212.00" y2="541.80" stroke="#333" stroke-width="0.8" />
<line x1="209.80" y1="562.30" x2="209.80" y2="550.70" stroke="#333" stroke-width="0.8" />
<line x1="207.60" y1="550.70" x2="212.00" y2="550.70" stroke="#333" stroke-width="0.8" />
<line x1="209.80" y1="564.80" x2="209.80" y2="568.00" stroke="#333" stroke-width="0.8" />
<line x1="207.60" y1="568.00" x2="212.00" y2="568.00" stroke="#333" stroke-width="0.8" />
<polyline points="62.80,616.50 111.70,598.00 160.80,571.80 209.80,564.80" fill="none" stroke="#000" stroke-width="1.35" stroke-dasharray="2 3"/>
<polyline points="62.80,616.50 111.70,607.00 160.80,604.20 209.80,595.70" fill="none" stroke="#000" stroke-width="1.35" stroke-dasharray="2 3"/>
<polyline points="62.80,615.50 111.70,594.00 160.80,577.10 209.80,562.30" fill="none" stroke="#333" stroke-width="1.0"/>
<polyline points="62.80,616.50 111.70,607.80 160.80,598.70 209.80,595.70" fill="none" stroke="#000" stroke-width="1.0"/>
<polyline points="62.80,617.00 111.70,596.00 160.80,582.80 209.80,553.80" fill="none" stroke="#000" stroke-width="1.0"/>
<path d="M60.33,614.03L65.27,618.97M60.33,618.97L65.27,614.03M60.33,616.50L65.27,616.50" stroke="#aaa" stroke-width="1.0" fill="none"/>
<path d="M109.23,595.53L114.17,600.47M109.23,600.47L114.17,595.53M109.23,598.00L114.17,598.00" stroke="#aaa" stroke-width="1.0" fill="none"/>
<path d="M158.33,569.33L163.27,574.27M158.33,574.27L163.27,569.33M158.33,571.80L163.27,571.80" stroke="#aaa" stroke-width="1.0" fill="none"/>
<path d="M207.33,562.33L212.27,567.27M207.33,567.27L212.27,562.33M207.33,564.80L212.27,564.80" stroke="#aaa" stroke-width="1.0" fill="none"/>
<path d="M60.04,618.98L62.80,613.47L65.55,618.98Z" fill="#000"/>
<path d="M108.95,609.48L111.70,603.97L114.45,609.48Z" fill="#000"/>
<path d="M158.05,606.68L160.80,601.17L163.56,606.68Z" fill="#000"/>
<path d="M207.05,598.18L209.80,592.67L212.56,598.18Z" fill="#000"/>
<circle cx="62.80" cy="615.50" r="2.18" fill="#eee" stroke="#888" stroke-width="0.9"/>
<circle cx="111.70" cy="594.00" r="2.18" fill="#eee" stroke="#888" stroke-width="0.9"/>
<circle cx="160.80" cy="577.10" r="2.18" fill="#eee" stroke="#888" stroke-width="0.9"/>
<circle cx="209.80" cy="562.30" r="2.18" fill="#eee" stroke="#888" stroke-width="0.9"/>
<rect x="60.33" y="614.03" width="4.94" height="4.94" fill="#000" />
<rect x="109.23" y="605.33" width="4.94" height="4.94" fill="#000" />
<rect x="158.33" y="596.23" width="4.94" height="4.94" fill="#000" />
<rect x="207.33" y="593.23" width="4.94" height="4.94" fill="#000" />
<path d="M59.95,617.00L62.80,614.15L65.65,617.00L62.80,619.85Z" fill="#000"/>
<path d="M108.85,596.00L111.70,593.15L114.55,596.00L111.70,598.85Z" fill="#000"/>
<path d="M157.95,582.80L160.80,579.95L163.65,582.80L160.80,585.65Z" fill="#000"/>
<path d="M206.95,553.80L209.80,550.95L212.65,553.80L209.80,556.65Z" fill="#000"/>
<polyline points="57.80,523.70 82.20,523.70" fill="none" stroke="#000" stroke-width="1.0"/>
<path d="M68.00,523.70L70.40,521.30L72.80,523.70L70.40,526.10Z" fill="#000"/>
<text transform="translate(84.90,526.40) scale(0.95,1)" font-size="7.4" font-weight="bold" text-anchor="start" fill="#000" stroke="#000" stroke-width="0.25" >Control</text>
<polyline points="57.80,535.62 82.20,535.62" fill="none" stroke="#000" stroke-width="1.0"/>
<rect x="68.32" y="533.54" width="4.16" height="4.16" fill="#000" />
<text transform="translate(84.90,538.32) scale(0.95,1)" font-size="7.4" font-weight="bold" text-anchor="start" fill="#000" stroke="#000" stroke-width="0.25" >si-BMP2</text>
<polyline points="57.80,547.54 82.20,547.54" fill="none" stroke="#000" stroke-width="1.35" stroke-dasharray="2 3"/>
<path d="M68.08,549.63L70.40,544.99L72.72,549.63Z" fill="#000"/>
<text transform="translate(84.90,550.24) scale(0.95,1)" font-size="7.4" font-weight="bold" text-anchor="start" fill="#000" stroke="#000" stroke-width="0.25" >si-BMP4</text>
<polyline points="57.80,559.46 82.20,559.46" fill="none" stroke="#777" stroke-width="1.0"/>
<circle cx="70.40" cy="559.46" r="1.84" fill="#eee" stroke="#888" stroke-width="0.9"/>
<text transform="translate(84.90,562.16) scale(0.95,1)" font-size="7.4" font-weight="bold" text-anchor="start" fill="#000" stroke="#000" stroke-width="0.25" >si-BMP6</text>
<polyline points="57.80,571.38 82.20,571.38" fill="none" stroke="#000" stroke-width="1.35" stroke-dasharray="2 3"/>
<path d="M68.32,569.30L72.48,573.46M68.32,573.46L72.48,569.30M68.32,571.38L72.48,571.38" stroke="#aaa" stroke-width="1.0" fill="none"/>
<text transform="translate(84.90,574.08) scale(0.95,1)" font-size="7.4" font-weight="bold" text-anchor="start" fill="#000" stroke="#000" stroke-width="0.25" >si-BMP7</text>
<text transform="translate(62.80,641.90) scale(0.9,1)" font-size="10.5" font-weight="bold" text-anchor="middle" fill="#000" stroke="#000" stroke-width="0.25" >0</text>
<text transform="translate(111.70,641.90) scale(0.9,1)" font-size="10.5" font-weight="bold" text-anchor="middle" fill="#000" stroke="#000" stroke-width="0.25" >1</text>
<text transform="translate(160.80,641.90) scale(0.9,1)" font-size="10.5" font-weight="bold" text-anchor="middle" fill="#000" stroke="#000" stroke-width="0.25" >4</text>
<text transform="translate(209.80,641.90) scale(0.9,1)" font-size="10.5" font-weight="bold" text-anchor="middle" fill="#000" stroke="#000" stroke-width="0.25" >16</text>
<text class="dv" transform="translate(71.90,653.90)" font-size="12.9" font-weight="bold" text-anchor="start" textLength="135.8" lengthAdjust="spacingAndGlyphs" stroke="#000" stroke-width="0.35">Flag-HJV (ng/mL)</text>
<text transform="translate(274.20,508.50) scale(1.0,1)" font-size="16" font-weight="bold" text-anchor="start" fill="#000" stroke="#000" stroke-width="0.25" >G</text>
<text transform="translate(309.00,513.50) scale(0.9,1)" font-size="12.6" font-weight="bold" text-anchor="start" fill="#000" stroke="#000" stroke-width="0.25" >Hep3B</text>
<text transform="translate(396.80,506.60) scale(0.98,1)" font-size="13.4" font-weight="bold" text-anchor="start" fill="#000" stroke="#000" stroke-width="0.25" >Flag-HJV</text>
<text class="dv" transform="translate(290.80,616.50) rotate(-90)" font-size="9.4" font-weight="bold" text-anchor="start" textLength="87.3" lengthAdjust="spacingAndGlyphs" stroke="#000" stroke-width="0.1">Hepcidin/RPL19</text>
<rect x="315.70" y="603.20" width="17.00" height="20.00" fill="#000" />
<line x1="324.20" y1="603.20" x2="324.20" y2="601.20" stroke="#000" stroke-width="1.3" />
<line x1="321.00" y1="601.20" x2="327.40" y2="601.20" stroke="#000" stroke-width="1.3" />
<rect x="350.50" y="542.00" width="17.00" height="81.20" fill="#000" />
<line x1="359.00" y1="542.00" x2="359.00" y2="533.70" stroke="#000" stroke-width="1.3" />
<line x1="355.80" y1="533.70" x2="362.20" y2="533.70" stroke="#000" stroke-width="1.3" />
<rect x="385.50" y="580.20" width="17.00" height="43.00" fill="#000" />
<line x1="394.00" y1="580.20" x2="394.00" y2="579.00" stroke="#000" stroke-width="1.3" />
<line x1="390.80" y1="579.00" x2="397.20" y2="579.00" stroke="#000" stroke-width="1.3" />
<rect x="420.50" y="596.40" width="17.00" height="26.80" fill="#000" />
<line x1="429.00" y1="596.40" x2="429.00" y2="593.00" stroke="#000" stroke-width="1.3" />
<line x1="425.80" y1="593.00" x2="432.20" y2="593.00" stroke="#000" stroke-width="1.3" />
<rect x="455.50" y="545.20" width="17.00" height="78.00" fill="#000" />
<line x1="464.00" y1="545.20" x2="464.00" y2="537.70" stroke="#000" stroke-width="1.3" />
<line x1="460.80" y1="537.70" x2="467.20" y2="537.70" stroke="#000" stroke-width="1.3" />
<rect x="490.50" y="542.50" width="17.00" height="80.70" fill="#000" />
<line x1="499.00" y1="542.50" x2="499.00" y2="532.30" stroke="#000" stroke-width="1.3" />
<line x1="495.80" y1="532.30" x2="502.20" y2="532.30" stroke="#000" stroke-width="1.3" />
<line x1="307.00" y1="523.60" x2="307.00" y2="626.20" stroke="#000" stroke-width="1.3" />
<line x1="303.40" y1="623.20" x2="516.50" y2="623.20" stroke="#000" stroke-width="1.3" />
<line x1="341.50" y1="623.20" x2="341.50" y2="626.20" stroke="#000" stroke-width="1.3" />
<line x1="376.50" y1="623.20" x2="376.50" y2="626.20" stroke="#000" stroke-width="1.3" />
<line x1="411.50" y1="623.20" x2="411.50" y2="626.20" stroke="#000" stroke-width="1.3" />
<line x1="446.50" y1="623.20" x2="446.50" y2="626.20" stroke="#000" stroke-width="1.3" />
<line x1="481.50" y1="623.20" x2="481.50" y2="626.20" stroke="#000" stroke-width="1.3" />
<line x1="516.50" y1="623.20" x2="516.50" y2="626.20" stroke="#000" stroke-width="1.3" />
<line x1="303.40" y1="623.20" x2="307.00" y2="623.20" stroke="#000" stroke-width="1.3" />
<text transform="translate(300.50,626.08) scale(0.88,1)" font-size="8" font-weight="bold" text-anchor="end" fill="#000" stroke="#000" stroke-width="0.25" >0</text>
<line x1="303.40" y1="603.28" x2="307.00" y2="603.28" stroke="#000" stroke-width="1.3" />
<text transform="translate(300.50,606.16) scale(0.88,1)" font-size="8" font-weight="bold" text-anchor="end" fill="#000" stroke="#000" stroke-width="0.25" >1</text>
<line x1="303.40" y1="583.36" x2="307.00" y2="583.36" stroke="#000" stroke-width="1.3" />
<text transform="translate(300.50,586.24) scale(0.88,1)" font-size="8" font-weight="bold" text-anchor="end" fill="#000" stroke="#000" stroke-width="0.25" >2</text>
<line x1="303.40" y1="563.44" x2="307.00" y2="563.44" stroke="#000" stroke-width="1.3" />
<text transform="translate(300.50,566.32) scale(0.88,1)" font-size="8" font-weight="bold" text-anchor="end" fill="#000" stroke="#000" stroke-width="0.25" >3</text>
<line x1="303.40" y1="543.52" x2="307.00" y2="543.52" stroke="#000" stroke-width="1.3" />
<text transform="translate(300.50,546.40) scale(0.88,1)" font-size="8" font-weight="bold" text-anchor="end" fill="#000" stroke="#000" stroke-width="0.25" >4</text>
<line x1="303.40" y1="523.60" x2="307.00" y2="523.60" stroke="#000" stroke-width="1.3" />
<text transform="translate(300.50,526.48) scale(0.88,1)" font-size="8" font-weight="bold" text-anchor="end" fill="#000" stroke="#000" stroke-width="0.25" >5</text>
<text transform="translate(324.20,639.20) scale(0.91,1)" font-size="8.4" font-weight="bold" text-anchor="middle" fill="#000" stroke="#000" stroke-width="0.25" >Control</text>
<text transform="translate(359.00,639.20) scale(0.91,1)" font-size="8.4" font-weight="bold" text-anchor="middle" fill="#000" stroke="#000" stroke-width="0.25" >Control</text>
<text transform="translate(394.00,639.20) scale(0.91,1)" font-size="8.4" font-weight="bold" text-anchor="middle" fill="#000" stroke="#000" stroke-width="0.25" >si-BMP2</text>
<text transform="translate(429.00,639.20) scale(0.91,1)" font-size="8.4" font-weight="bold" text-anchor="middle" fill="#000" stroke="#000" stroke-width="0.25" >si-BMP4</text>
<text transform="translate(464.00,639.20) scale(0.91,1)" font-size="8.4" font-weight="bold" text-anchor="middle" fill="#000" stroke="#000" stroke-width="0.25" >si-BMP6</text>
<text transform="translate(499.00,639.20) scale(0.91,1)" font-size="8.4" font-weight="bold" text-anchor="middle" fill="#000" stroke="#000" stroke-width="0.25" >si-BMP7</text>
<path d="M361.2,525.7V512H499.3V525" fill="none" stroke="#333" stroke-width="0.9"/>
<text class="st" x="396.50" y="579.04" font-size="16" text-anchor="middle" letter-spacing="1.4" stroke="#333" stroke-width="0.25">***</text>
<text class="st" x="430.10" y="595.54" font-size="16" text-anchor="middle" letter-spacing="1.4" stroke="#333" stroke-width="0.25">***</text>
<text transform="translate(132.70,686.80) scale(1.0,1)" font-size="15.6" font-weight="bold" text-anchor="start" fill="#000" stroke="#000" stroke-width="0.25" >H</text>
<text transform="translate(187.50,698.00) scale(0.9,1)" font-size="12.3" font-weight="bold" text-anchor="start" fill="#000" stroke="#000" stroke-width="0.25" >Huh-7</text>
<text transform="translate(270.20,685.70) scale(0.98,1)" font-size="13.6" font-weight="bold" text-anchor="start" fill="#000" stroke="#000" stroke-width="0.25" >Flag-HJV</text>
<text class="dv" transform="translate(161.60,796.00) rotate(-90)" font-size="9.5" font-weight="bold" text-anchor="start" textLength="91.4" lengthAdjust="spacingAndGlyphs" stroke="#000" stroke-width="0.1">Hepcidin/RPL19</text>
<rect x="189.10" y="774.70" width="19.80" height="24.10" fill="#000" />
<line x1="199.00" y1="774.70" x2="199.00" y2="773.80" stroke="#000" stroke-width="1.3" />
<line x1="195.80" y1="773.80" x2="202.20" y2="773.80" stroke="#000" stroke-width="1.3" />
<rect x="229.40" y="719.20" width="19.80" height="79.60" fill="#000" />
<line x1="239.30" y1="719.20" x2="239.30" y2="708.80" stroke="#000" stroke-width="1.3" />
<line x1="236.10" y1="708.80" x2="242.50" y2="708.80" stroke="#000" stroke-width="1.3" />
<rect x="269.60" y="770.30" width="19.80" height="28.50" fill="#000" />
<line x1="279.50" y1="770.30" x2="279.50" y2="766.80" stroke="#000" stroke-width="1.3" />
<line x1="276.30" y1="766.80" x2="282.70" y2="766.80" stroke="#000" stroke-width="1.3" />
<rect x="309.80" y="754.40" width="19.80" height="44.40" fill="#000" />
<line x1="319.70" y1="754.40" x2="319.70" y2="751.50" stroke="#000" stroke-width="1.3" />
<line x1="316.50" y1="751.50" x2="322.90" y2="751.50" stroke="#000" stroke-width="1.3" />
<rect x="349.90" y="734.20" width="19.80" height="64.60" fill="#000" />
<line x1="359.80" y1="734.20" x2="359.80" y2="729.00" stroke="#000" stroke-width="1.3" />
<line x1="356.60" y1="729.00" x2="363.00" y2="729.00" stroke="#000" stroke-width="1.3" />
<line x1="178.30" y1="701.20" x2="178.30" y2="801.80" stroke="#000" stroke-width="1.3" />
<line x1="174.70" y1="798.80" x2="379.70" y2="798.80" stroke="#000" stroke-width="1.3" />
<line x1="218.80" y1="798.80" x2="218.80" y2="801.80" stroke="#000" stroke-width="1.3" />
<line x1="259.00" y1="798.80" x2="259.00" y2="801.80" stroke="#000" stroke-width="1.3" />
<line x1="299.00" y1="798.80" x2="299.00" y2="801.80" stroke="#000" stroke-width="1.3" />
<line x1="339.00" y1="798.80" x2="339.00" y2="801.80" stroke="#000" stroke-width="1.3" />
<line x1="379.50" y1="798.80" x2="379.50" y2="801.80" stroke="#000" stroke-width="1.3" />
<line x1="174.70" y1="798.80" x2="178.30" y2="798.80" stroke="#000" stroke-width="1.3" />
<text transform="translate(171.60,802.04) scale(0.95,1)" font-size="9" font-weight="bold" text-anchor="end" fill="#000" stroke="#000" stroke-width="0.25" >0</text>
<line x1="174.70" y1="774.40" x2="178.30" y2="774.40" stroke="#000" stroke-width="1.3" />
<text transform="translate(171.60,777.64) scale(0.95,1)" font-size="9" font-weight="bold" text-anchor="end" fill="#000" stroke="#000" stroke-width="0.25" >1</text>
<line x1="174.70" y1="750.00" x2="178.30" y2="750.00" stroke="#000" stroke-width="1.3" />
<text transform="translate(171.60,753.24) scale(0.95,1)" font-size="9" font-weight="bold" text-anchor="end" fill="#000" stroke="#000" stroke-width="0.25" >2</text>
<line x1="174.70" y1="725.60" x2="178.30" y2="725.60" stroke="#000" stroke-width="1.3" />
<text transform="translate(171.60,728.84) scale(0.95,1)" font-size="9" font-weight="bold" text-anchor="end" fill="#000" stroke="#000" stroke-width="0.25" >3</text>
<line x1="174.70" y1="701.20" x2="178.30" y2="701.20" stroke="#000" stroke-width="1.3" />
<text transform="translate(171.60,704.44) scale(0.95,1)" font-size="9" font-weight="bold" text-anchor="end" fill="#000" stroke="#000" stroke-width="0.25" >4</text>
<text transform="translate(199.00,816.20) scale(0.9,1)" font-size="8.8" font-weight="bold" text-anchor="middle" fill="#000" stroke="#000" stroke-width="0.25" >Control</text>
<text transform="translate(239.30,816.20) scale(0.9,1)" font-size="8.8" font-weight="bold" text-anchor="middle" fill="#000" stroke="#000" stroke-width="0.25" >Control</text>
<text transform="translate(279.50,816.20) scale(0.9,1)" font-size="8.8" font-weight="bold" text-anchor="middle" fill="#000" stroke="#000" stroke-width="0.25" >si-BMP2</text>
<text transform="translate(319.70,816.20) scale(0.9,1)" font-size="8.8" font-weight="bold" text-anchor="middle" fill="#000" stroke="#000" stroke-width="0.25" >si-BMP4</text>
<text transform="translate(359.80,816.20) scale(0.9,1)" font-size="8.8" font-weight="bold" text-anchor="middle" fill="#000" stroke="#000" stroke-width="0.25" >si-BMP6</text>
<path d="M237.3,702.5V691.5H361.8V704" fill="none" stroke="#333" stroke-width="0.9"/>
<text class="st" x="281.10" y="766.34" font-size="16" text-anchor="middle" letter-spacing="1.4" stroke="#333" stroke-width="0.25">***</text>
<text class="st" x="320.30" y="750.74" font-size="16" text-anchor="middle" letter-spacing="1.4" stroke="#333" stroke-width="0.25">***</text>
<text class="st" x="360.90" y="727.64" font-size="16" text-anchor="middle" letter-spacing="1.4" stroke="#333" stroke-width="0.25">*</text>
</svg>
</body></html>
